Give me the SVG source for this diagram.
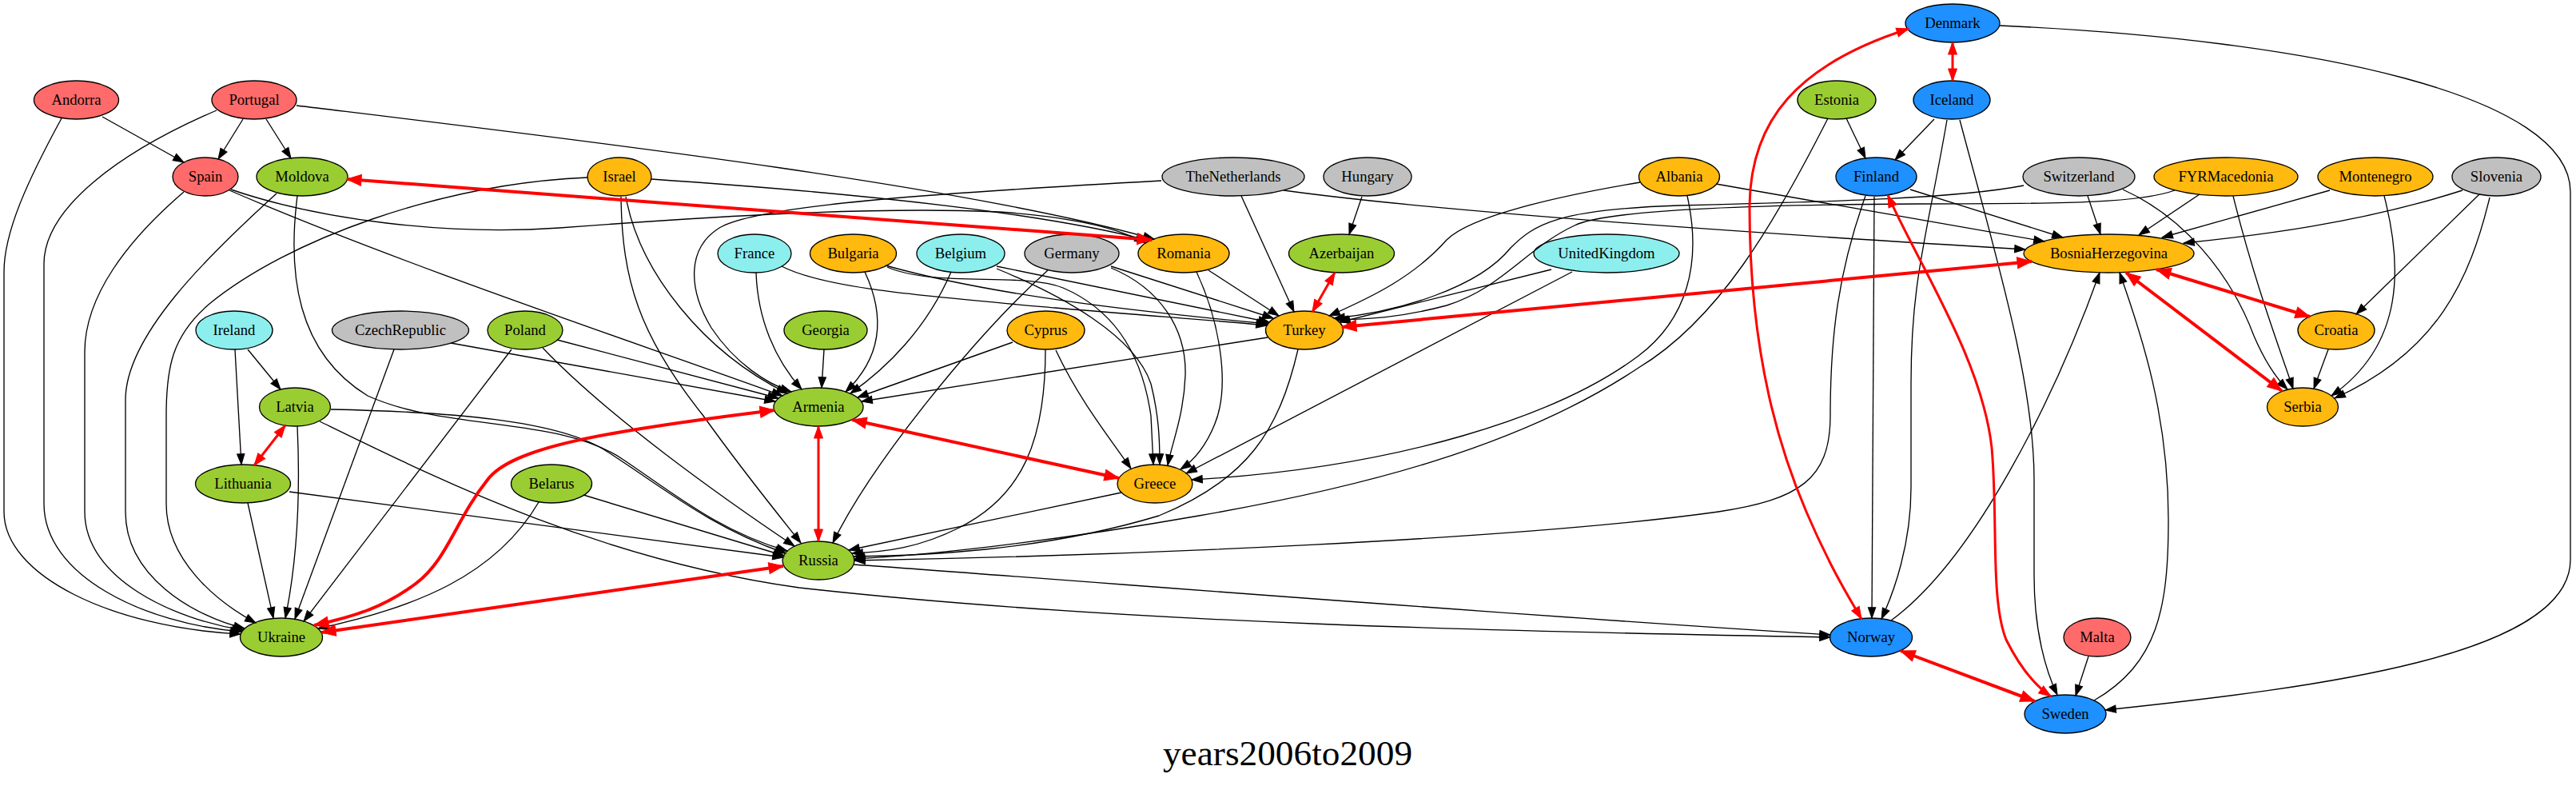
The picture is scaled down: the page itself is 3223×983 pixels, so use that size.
<svg xmlns="http://www.w3.org/2000/svg" width="3223" height="983" viewBox="0 0 3223 983">
<style>
.n ellipse{stroke:#000;stroke-width:1.33}
.n text{font-family:"Liberation Serif","Times New Roman",serif;font-size:18.67px;text-anchor:middle;fill:#000}
.e{fill:none;stroke:#000;stroke-width:1.33;marker-end:url(#ab)}
.r{fill:none;stroke:#f00;stroke-width:4;marker-start:url(#ar);marker-end:url(#ar)}
.r2{fill:none;stroke:#f00;stroke-width:3;marker-start:url(#ar2);marker-end:url(#ar2)}
.cr{fill:#FF6A6A}.cg{fill:#9ACD32}.co{fill:#FFB90F}.cc{fill:#8DEEEE}.cy{fill:#C0C0C0}.cb{fill:#1E90FF}
.title{font-family:"Liberation Serif","Times New Roman",serif;font-size:45.33px;text-anchor:middle;fill:#000}
</style>
<defs>
<marker id="ab" markerUnits="userSpaceOnUse" orient="auto" refX="13.3" refY="0" overflow="visible"><path d="M0,-4.7 L13.3,0 L0,4.7z" fill="#000" stroke="#000" stroke-width="1"/></marker>
<marker id="ar" markerUnits="userSpaceOnUse" orient="auto-start-reverse" refX="18" refY="0" overflow="visible"><path d="M0,-7 L18,0 L0,7z" fill="#f00" stroke="#f00" stroke-width="1"/></marker>
<marker id="ar2" markerUnits="userSpaceOnUse" orient="auto-start-reverse" refX="15" refY="0" overflow="visible"><path d="M0,-5.5 L15,0 L0,5.5z" fill="#f00" stroke="#f00" stroke-width="1"/></marker>
</defs>
<rect width="3223" height="983" fill="#fff"/>
<g id="nodes">
<g id="Denmark" class="n"><ellipse class="cb" cx="2443" cy="29" rx="59" ry="24"/><text x="2443" y="35">Denmark</text></g>
<g id="Andorra" class="n"><ellipse class="cr" cx="95.5" cy="125" rx="53" ry="24"/><text x="95.5" y="131">Andorra</text></g>
<g id="Portugal" class="n"><ellipse class="cr" cx="318" cy="125" rx="53" ry="24"/><text x="318" y="131">Portugal</text></g>
<g id="Estonia" class="n"><ellipse class="cg" cx="2298" cy="125" rx="49" ry="24"/><text x="2298" y="131">Estonia</text></g>
<g id="Iceland" class="n"><ellipse class="cb" cx="2442" cy="125" rx="48" ry="24"/><text x="2442" y="131">Iceland</text></g>
<g id="Spain" class="n"><ellipse class="cr" cx="257" cy="221" rx="41" ry="24"/><text x="257" y="227">Spain</text></g>
<g id="Moldova" class="n"><ellipse class="cg" cx="378" cy="221" rx="57" ry="24"/><text x="378" y="227">Moldova</text></g>
<g id="Israel" class="n"><ellipse class="co" cx="775" cy="221" rx="40" ry="24"/><text x="775" y="227">Israel</text></g>
<g id="TheNetherlands" class="n"><ellipse class="cy" cx="1543" cy="221" rx="89" ry="24"/><text x="1543" y="227">TheNetherlands</text></g>
<g id="Hungary" class="n"><ellipse class="cy" cx="1711" cy="221" rx="55" ry="24"/><text x="1711" y="227">Hungary</text></g>
<g id="Albania" class="n"><ellipse class="co" cx="2101" cy="221" rx="50.5" ry="24"/><text x="2101" y="227">Albania</text></g>
<g id="Finland" class="n"><ellipse class="cb" cx="2347.5" cy="221" rx="50.5" ry="24"/><text x="2347.5" y="227">Finland</text></g>
<g id="Switzerland" class="n"><ellipse class="cy" cx="2601" cy="221" rx="70" ry="24"/><text x="2601" y="227">Switzerland</text></g>
<g id="FYRMacedonia" class="n"><ellipse class="co" cx="2785" cy="221" rx="90" ry="24"/><text x="2785" y="227">FYRMacedonia</text></g>
<g id="Montenegro" class="n"><ellipse class="co" cx="2972" cy="221" rx="72" ry="24"/><text x="2972" y="227">Montenegro</text></g>
<g id="Slovenia" class="n"><ellipse class="cy" cx="3123.5" cy="221" rx="55.5" ry="24"/><text x="3123.5" y="227">Slovenia</text></g>
<g id="France" class="n"><ellipse class="cc" cx="944" cy="317" rx="46" ry="24"/><text x="944" y="323">France</text></g>
<g id="Bulgaria" class="n"><ellipse class="co" cx="1067.5" cy="317" rx="54" ry="24"/><text x="1067.5" y="323">Bulgaria</text></g>
<g id="Belgium" class="n"><ellipse class="cc" cx="1202" cy="317" rx="55" ry="24"/><text x="1202" y="323">Belgium</text></g>
<g id="Germany" class="n"><ellipse class="cy" cx="1341" cy="317" rx="59" ry="24"/><text x="1341" y="323">Germany</text></g>
<g id="Romania" class="n"><ellipse class="co" cx="1481" cy="317" rx="57" ry="24"/><text x="1481" y="323">Romania</text></g>
<g id="Azerbaijan" class="n"><ellipse class="cg" cx="1678.5" cy="317" rx="66" ry="24"/><text x="1678.5" y="323">Azerbaijan</text></g>
<g id="UnitedKingdom" class="n"><ellipse class="cc" cx="2010" cy="317" rx="91" ry="24"/><text x="2010" y="323">UnitedKingdom</text></g>
<g id="BosniaHerzegovina" class="n"><ellipse class="co" cx="2638.5" cy="317" rx="106.5" ry="24"/><text x="2638.5" y="323">BosniaHerzegovina</text></g>
<g id="Ireland" class="n"><ellipse class="cc" cx="293" cy="413" rx="48" ry="24"/><text x="293" y="419">Ireland</text></g>
<g id="CzechRepublic" class="n"><ellipse class="cy" cx="501" cy="413" rx="85.5" ry="24"/><text x="501" y="419">CzechRepublic</text></g>
<g id="Poland" class="n"><ellipse class="cg" cx="657" cy="413" rx="47" ry="24"/><text x="657" y="419">Poland</text></g>
<g id="Georgia" class="n"><ellipse class="cg" cx="1033" cy="413" rx="52" ry="24"/><text x="1033" y="419">Georgia</text></g>
<g id="Cyprus" class="n"><ellipse class="co" cx="1308.5" cy="413" rx="48.5" ry="24"/><text x="1308.5" y="419">Cyprus</text></g>
<g id="Turkey" class="n"><ellipse class="co" cx="1632" cy="413" rx="48.5" ry="24"/><text x="1632" y="419">Turkey</text></g>
<g id="Croatia" class="n"><ellipse class="co" cx="2923" cy="413" rx="48" ry="24"/><text x="2923" y="419">Croatia</text></g>
<g id="Latvia" class="n"><ellipse class="cg" cx="369" cy="509" rx="44.5" ry="24"/><text x="369" y="515">Latvia</text></g>
<g id="Armenia" class="n"><ellipse class="cg" cx="1024" cy="509" rx="56" ry="24"/><text x="1024" y="515">Armenia</text></g>
<g id="Serbia" class="n"><ellipse class="co" cx="2881" cy="509" rx="44.5" ry="24"/><text x="2881" y="515">Serbia</text></g>
<g id="Lithuania" class="n"><ellipse class="cg" cx="304" cy="605" rx="59.5" ry="24"/><text x="304" y="611">Lithuania</text></g>
<g id="Belarus" class="n"><ellipse class="cg" cx="690" cy="605" rx="50.5" ry="24"/><text x="690" y="611">Belarus</text></g>
<g id="Greece" class="n"><ellipse class="co" cx="1445" cy="605" rx="47" ry="24"/><text x="1445" y="611">Greece</text></g>
<g id="Russia" class="n"><ellipse class="cg" cx="1024" cy="701" rx="45" ry="24"/><text x="1024" y="707">Russia</text></g>
<g id="Ukraine" class="n"><ellipse class="cg" cx="352" cy="797" rx="51.5" ry="24"/><text x="352" y="803">Ukraine</text></g>
<g id="Norway" class="n"><ellipse class="cb" cx="2341" cy="797" rx="51.5" ry="24"/><text x="2341" y="803">Norway</text></g>
<g id="Malta" class="n"><ellipse class="cr" cx="2624" cy="797" rx="42" ry="24"/><text x="2624" y="803">Malta</text></g>
<g id="Sweden" class="n"><ellipse class="cb" cx="2584" cy="893" rx="51" ry="24"/><text x="2584" y="899">Sweden</text></g>
</g>
<g id="edges">
<path class="e" d="M128,146 L230,203"/>
<path class="e" d="M77,148 C35,225 5,290 5,340 L5,640 C5,720 140,785 301,793"/>
<path class="e" d="M304,149 L273,199"/>
<path class="e" d="M333,149 L364,198"/>
<path class="e" d="M271,138 C150,190 55,260 55,330 L55,630 C55,720 180,780 302,790"/>
<path class="e" d="M371,132 C700,172 1200,230 1444,299"/>
<path class="e" d="M289,237 C400,275 560,295 700,285 C900,270 1100,258 1250,265 C1350,272 1405,288 1433,304"/>
<path class="e" d="M230,240 C160,300 106,370 106,440 L106,640 C106,725 220,775 304,788"/>
<path class="e" d="M287,238 C500,330 800,430 979,495"/>
<path class="e" d="M346,242 C260,320 157,420 157,500 L157,640 C157,720 240,770 306,786"/>
<path class="e" d="M372,245 C360,340 370,440 460,495 C560,540 700,520 780,575 C840,615 900,665 985,689"/>
<path class="e" d="M735,222 C550,230 360,300 262,380 C215,420 208,460 208,520 L208,630 C208,700 270,752 320,779"/>
<path class="e" d="M815,224 C1050,240 1300,265 1438,301"/>
<path class="e" d="M783,246 C800,340 880,440 985,492"/>
<path class="e" d="M777,246 C778,350 800,420 880,520 C930,590 975,645 1002,679"/>
<path class="e" d="M1453,226 C1200,240 950,255 900,285 C860,310 860,360 890,410 C920,455 960,480 990,490"/>
<path class="e" d="M1553,245 L1619,390"/>
<path class="e" d="M1606,238 C1800,265 2200,292 2534,312"/>
<path class="e" d="M1704,246 L1688,293"/>
<path class="e" d="M946,341 C948,400 970,450 1003,487"/>
<path class="e" d="M978,333 C1030,360 1150,370 1320,385 C1450,396 1540,402 1585,407"/>
<path class="e" d="M1082,340 C1110,400 1100,450 1058,490"/>
<path class="e" d="M1108,332 C1250,372 1450,392 1586,405"/>
<path class="e" d="M1110,334 C1170,360 1280,340 1330,360 C1400,390 1430,450 1440,520 L1443,581"/>
<path class="e" d="M1190,340 C1160,410 1110,460 1064,492"/>
<path class="e" d="M1247,333 L1588,403"/>
<path class="e" d="M1247,336 C1330,370 1420,420 1440,480 C1450,520 1451,550 1451,581"/>
<path class="e" d="M1311,338 C1220,420 1090,580 1042,679"/>
<path class="e" d="M1390,333 L1593,398"/>
<path class="e" d="M1390,335 C1450,360 1485,410 1483,470 C1481,520 1466,555 1461,582"/>
<path class="e" d="M1512,338 L1600,395"/>
<path class="e" d="M1497,340 C1525,400 1540,480 1520,530 C1510,555 1495,575 1477,587"/>
<path class="e" d="M2052,228 C1950,245 1840,270 1810,300 C1770,345 1720,370 1663,395"/>
<path class="e" d="M2111,245 C2130,330 2110,400 2050,445 C1950,520 1750,585 1491,600"/>
<path class="e" d="M2147,230 L2558,302"/>
<path class="e" d="M1941,337 L1676,403"/>
<path class="e" d="M1967,340 L1484,592"/>
<path class="e" d="M2310,148 L2334,198"/>
<path class="e" d="M2287,148 C2220,280 2150,400 2050,460 C1900,560 1700,610 1500,645 C1300,680 1150,695 1069,699"/>
<path class="e" d="M2420,149 L2371,200"/>
<path class="e" d="M2436,150 C2410,300 2391,350 2391,480 L2391,610 C2391,680 2370,740 2354,774"/>
<path class="e" d="M2452,150 C2500,330 2545,480 2545,600 L2545,720 C2545,790 2560,840 2574,869"/>
<path class="e" d="M2502,32 C2900,50 3216,120 3216,240 L3216,700 C3216,820 2900,860 2634,888"/>
<path class="e" d="M2390,237 L2581,297"/>
<path class="e" d="M2334,245 C2300,340 2290,420 2290,520 C2290,600 2250,625 2150,640 C1900,675 1400,695 1069,701"/>
<path class="e" d="M2345,246 L2342,773"/>
<path class="e" d="M2532,232 C2450,248 2300,252 2100,257 C1950,262 1920,280 1890,310 C1850,360 1750,390 1669,398"/>
<path class="e" d="M2612,245 L2628,293"/>
<path class="e" d="M2656,237 C2730,270 2790,340 2820,420 C2835,455 2850,475 2862,487"/>
<path class="e" d="M2721,238 C2680,253 2600,255 2400,255 C2200,256 2010,262 1970,282 C1910,310 1880,360 1810,382 C1750,398 1710,399 1673,400"/>
<path class="e" d="M2752,243 L2676,294"/>
<path class="e" d="M2794,245 C2820,350 2850,430 2869,486"/>
<path class="e" d="M2915,238 L2705,297"/>
<path class="e" d="M2983,245 C3005,330 3010,430 2917,495"/>
<path class="e" d="M3081,238 C2950,280 2820,295 2732,304"/>
<path class="e" d="M3102,243 L2948,393"/>
<path class="e" d="M3115,247 C3090,350 3050,440 2921,498"/>
<path class="e" d="M2913,437 L2895,486"/>
<path class="e" d="M310,437 L351,487"/>
<path class="e" d="M294,437 L302,581"/>
<path class="e" d="M564,429 L970,502"/>
<path class="e" d="M493,437 L369,774"/>
<path class="e" d="M697,425 L974,498"/>
<path class="e" d="M679,435 C760,520 900,620 994,683"/>
<path class="e" d="M640,437 L380,777"/>
<path class="e" d="M1031,437 L1028,485"/>
<path class="e" d="M1267,428 L1073,497"/>
<path class="e" d="M1321,438 C1350,500 1390,550 1415,586"/>
<path class="e" d="M1308,437 C1308,550 1280,620 1200,660 C1150,685 1110,690 1066,692"/>
<path class="e" d="M1586,422 L1078,502"/>
<path class="e" d="M1624,437 C1600,540 1560,600 1450,645 C1300,690 1150,695 1068,696"/>
<path class="e" d="M372,533 C376,620 372,700 357,773"/>
<path class="e" d="M414,512 C560,515 700,525 760,565 C830,610 890,660 983,692"/>
<path class="e" d="M400,527 C550,600 750,700 1000,735 C1400,780 1900,790 2290,797"/>
<path class="e" d="M362,615 L980,697"/>
<path class="e" d="M310,629 L342,773"/>
<path class="e" d="M730,619 L981,695"/>
<path class="e" d="M674,628 C620,720 520,760 398,786"/>
<path class="e" d="M1403,616 L1062,688"/>
<path class="e" d="M1068,706 C1400,730 1900,770 2290,794"/>
<path class="e" d="M2366,776 C2470,700 2570,500 2627,341"/>
<path class="e" d="M2620,876 C2700,830 2713,760 2713,650 C2713,520 2680,420 2652,341"/>
<path class="e" d="M2613,821 L2597,870"/>
<path class="r" d="M434,224 L1441,300"/>
<path class="r2" d="M1670,341 L1642,390"/>
<path class="r2" d="M2443,53 L2443,101"/>
<path class="r2" d="M2388,36 C2250,80 2189,150 2189,260 C2189,450 2230,570 2260,640 C2290,710 2315,750 2329,774"/>
<path class="r2" d="M2362,244 C2400,330 2480,450 2492,560 C2500,650 2490,750 2510,800 C2530,840 2550,860 2566,871"/>
<path class="r" d="M2542,327 L1679,409"/>
<path class="r" d="M2698,337 L2890,396"/>
<path class="r" d="M2660,341 L2855,489"/>
<path class="r2" d="M357,532 L318,582"/>
<path class="r2" d="M1024,533 L1024,677"/>
<path class="r" d="M1066,525 L1400,598"/>
<path class="r" d="M969,513 C750,540 640,560 610,600 C570,650 560,700 520,730 C480,760 440,772 393,782"/>
<path class="r" d="M980,708 L402,791"/>
<path class="r" d="M2378,814 L2546,877"/>
</g>
<text class="title" x="1611" y="957">years2006to2009</text>
</svg>
